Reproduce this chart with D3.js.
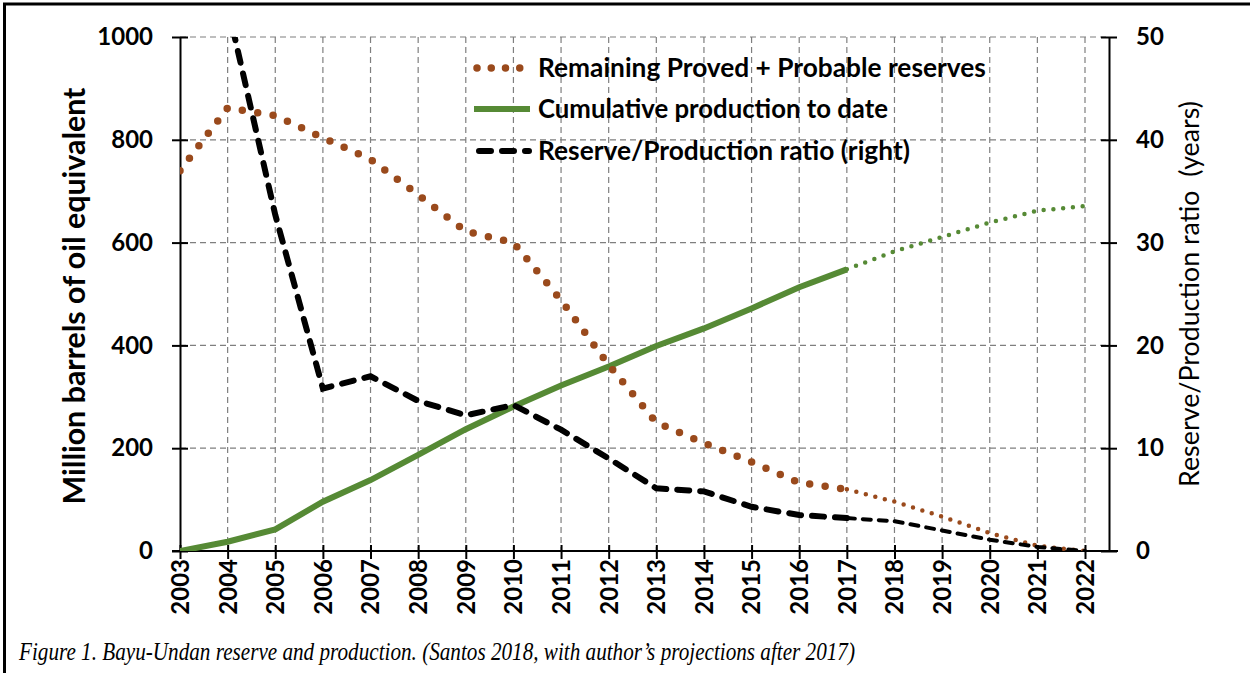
<!DOCTYPE html>
<html>
<head>
<meta charset="utf-8">
<script src="https://cdn.jsdelivr.net/npm/d3@7"></script>
<style>
  body { margin: 0; background: #fff; }
  svg { display: block; }
</style>
</head>
<body>
<div id="chart"></div>
<script>

var years = [2003, 2004, 2005, 2006, 2007, 2008, 2009, 2010, 2011, 2012,
             2013, 2014, 2015, 2016, 2017, 2018, 2019, 2020, 2021, 2022];
// million boe, remaining proved + probable
var reserves = [740, 862, 847, 804, 762, 693, 622, 600, 488, 362,
                250, 210, 173, 133, 120, 96, 67, 35, 10, 0];
// million boe, cumulative production
var production = [0, 18, 42, 96, 138, 187, 237, 281, 322, 359,
                  399, 433, 472, 513, 548, 583, 611, 639, 662, 671];
// years, reserve / production ratio (right axis)
var rpRatio = [null, 53, 32.7, 15.8, 17.0, 14.6, 13.2, 14.2, 11.8, 9.0,
               6.1, 5.8, 4.3, 3.5, 3.2, 2.9, 2.0, 1.1, 0.4, 0];
var lastActual = 2017;

var leftTicks = [0, 200, 400, 600, 800, 1000];
var rightTicks = [0, 10, 20, 30, 40, 50];
var legendLabels = ["Remaining Proved + Probable reserves",
                    "Cumulative production to date",
                    "Reserve/Production ratio (right)"];
var leftTitle = "Million barrels of oil equivalent";
var rightTitle = "Reserve/Production ratio\u00a0\u00a0(years)";
var captionText = "Figure 1. Bayu-Undan reserve and production. (Santos 2018, with author\u2019s projections after 2017)";

var brown = "#9a4a1c",
    green = "#568a35",
    gridColor = "#7f7f7f",
    font = "Lato, 'Open Sans', sans-serif";

var width = 1250, height = 673;

var svg = d3.select("#chart").append("svg")
  .attr("width", width)
  .attr("height", height)
  .style("font-family", font);

// outer frame (right and bottom edges fall outside the picture)
svg.append("rect")
  .attr("x", 4.5).attr("y", 4)
  .attr("width", 1300).attr("height", 720)
  .attr("fill", "none")
  .attr("stroke", "#000")
  .attr("stroke-width", 3);

var x = d3.scaleLinear().domain([2003, 2022]).range([180, 1085]),
    y = d3.scaleLinear().domain([0, 1000]).range([551, 37]),
    y2 = d3.scaleLinear().domain([0, 50]).range([551, 37]);

var plotRight = 1109;

// grid
var grid = svg.append("g")
  .attr("stroke", gridColor)
  .attr("stroke-width", 1.2)
  .attr("stroke-dasharray", "6 4");

grid.selectAll(".hg").data(leftTicks.filter(function(d) { return d > 0; }))
  .enter().append("line")
  .attr("x1", x(2003)).attr("x2", plotRight)
  .attr("y1", function(d) { return y(d); })
  .attr("y2", function(d) { return y(d); });

grid.selectAll(".vg").data(years.slice(1))
  .enter().append("line")
  .attr("y1", y(1000)).attr("y2", y(0))
  .attr("x1", function(d) { return x(d); })
  .attr("x2", function(d) { return x(d); });

// axes
function styleAxis(g) {
  g.selectAll("path.domain").attr("stroke", "#000").attr("stroke-width", 2);
  g.selectAll(".tick line").attr("stroke", "#000").attr("stroke-width", 2);
  g.selectAll(".tick text")
    .attr("fill", "#000")
    .style("font-family", font)
    .style("font-weight", "bold")
    .style("font-size", "24px");
}

var gLeft = svg.append("g")
  .attr("transform", "translate(" + x(2003) + ",0)")
  .call(d3.axisLeft(y).tickValues(leftTicks).tickFormat(d3.format("d"))
    .tickSize(8).tickSizeOuter(0).tickPadding(19))
  .call(styleAxis);
gLeft.selectAll(".tick line").attr("x1", 8);

var gRight = svg.append("g")
  .attr("transform", "translate(" + plotRight + ",0)")
  .call(d3.axisRight(y2).tickValues(rightTicks).tickFormat(d3.format("d"))
    .tickSize(8).tickSizeOuter(0).tickPadding(19))
  .call(styleAxis);
gRight.selectAll(".tick line").attr("x1", -8);

var gBottom = svg.append("g")
  .attr("transform", "translate(0," + y(0) + ")")
  .call(d3.axisBottom(x).tickValues(years).tickFormat(d3.format("d")).tickSize(8).tickSizeOuter(0))
  .call(styleAxis);
gBottom.select("path.domain").attr("d", "M172,0H1118");
gBottom.selectAll(".tick line").attr("y1", -6);
gBottom.selectAll(".tick text")
  .attr("transform", "rotate(-90)")
  .attr("text-anchor", "end")
  .attr("x", -8)
  .attr("y", 0)
  .attr("dy", "0.35em");

// series
svg.append("clipPath").attr("id", "plotClip")
  .append("rect")
  .attr("x", x(2003)).attr("y", y(1000))
  .attr("width", plotRight - x(2003)).attr("height", y(0) - y(1000));

function series(values) {
  return years.map(function(yr, i) { return { year: yr, v: values[i] }; });
}
var resData = series(reserves),
    prodData = series(production),
    rpData = series(rpRatio);

function actual(d) { return d.year <= lastActual; }
function projected(d) { return d.year >= lastActual; }

var lineLeft = d3.line()
  .defined(function(d) { return d.v != null; })
  .x(function(d) { return x(d.year); })
  .y(function(d) { return y(d.v); });
var lineRight = d3.line()
  .defined(function(d) { return d.v != null; })
  .x(function(d) { return x(d.year); })
  .y(function(d) { return y2(d.v); });

var gSeries = svg.append("g")
  .attr("clip-path", "url(#plotClip)")
  .attr("fill", "none")
  .attr("stroke-linecap", "round");

// cumulative production
gSeries.append("path")
  .attr("d", lineLeft(prodData.filter(actual)))
  .attr("stroke", green).attr("stroke-width", 6)
  .attr("stroke-linecap", "butt");
gSeries.append("path")
  .attr("d", lineLeft(prodData.filter(projected)))
  .attr("stroke", green).attr("stroke-width", 4.5)
  .attr("stroke-dasharray", "0 9.8");

// reserves
gSeries.append("path")
  .attr("d", lineLeft(resData.filter(actual)))
  .attr("stroke", brown).attr("stroke-width", 7.5)
  .attr("stroke-dasharray", "0 15.6");
gSeries.append("path")
  .attr("d", lineLeft(resData.filter(projected)))
  .attr("stroke", brown).attr("stroke-width", 4.5)
  .attr("stroke-dasharray", "0 9.8");

// R/P ratio
gSeries.append("path")
  .attr("d", lineRight(rpData.filter(actual)))
  .attr("stroke", "#000").attr("stroke-width", 6)
  .attr("stroke-dasharray", "12 11");
gSeries.append("path")
  .attr("d", lineRight(rpData.filter(projected)))
  .attr("stroke", "#000").attr("stroke-width", 4)
  .attr("stroke-dasharray", "8 8");

// legend
function fitWidth(sel, target) {
  var w = sel.node().getComputedTextLength(),
      fs = parseFloat(sel.style("font-size"));
  sel.style("font-size", (fs * target / w) + "px");
}

var legend = svg.append("g");
var legendRows = [68, 109, 151];

legend.append("line")
  .attr("x1", 477).attr("x2", 534).attr("y1", legendRows[0]).attr("y2", legendRows[0])
  .attr("stroke", brown).attr("stroke-width", 7.5)
  .attr("stroke-linecap", "round").attr("stroke-dasharray", "0 14.25");
legend.append("line")
  .attr("x1", 474).attr("x2", 530).attr("y1", legendRows[1]).attr("y2", legendRows[1])
  .attr("stroke", green).attr("stroke-width", 6);
legend.append("line")
  .attr("x1", 479).attr("x2", 529).attr("y1", legendRows[2]).attr("y2", legendRows[2])
  .attr("stroke", "#000").attr("stroke-width", 6)
  .attr("stroke-linecap", "round").attr("stroke-dasharray", "12 11");

var legendWidths = [448, 350, 372];
legendLabels.forEach(function(label, i) {
  var t = legend.append("text")
    .attr("x", 538).attr("y", legendRows[i])
    .attr("dy", "0.35em")
    .style("font-weight", "bold")
    .style("font-size", "23px")
    .text(label);
  fitWidth(t, legendWidths[i]);
});

// axis titles
var tLeft = svg.append("text")
  .attr("transform", "translate(85,296) rotate(-90)")
  .attr("text-anchor", "middle")
  .style("font-weight", "bold")
  .style("font-size", "28px")
  .text(leftTitle);
fitWidth(tLeft, 417);

var tRight = svg.append("text")
  .attr("transform", "translate(1199,294) rotate(-90)")
  .attr("text-anchor", "middle")
  .style("font-size", "24px")
  .text(rightTitle);
fitWidth(tRight, 386);

// caption: tall italic serif squeezed to the figure width
svg.append("text")
  .attr("x", 19).attr("y", 660)
  .attr("textLength", 836)
  .attr("lengthAdjust", "spacingAndGlyphs")
  .style("font-family", "'Liberation Serif', 'Times New Roman', serif")
  .style("font-style", "italic")
  .style("font-size", "25px")
  .text(captionText);

</script>
</body>
</html>
